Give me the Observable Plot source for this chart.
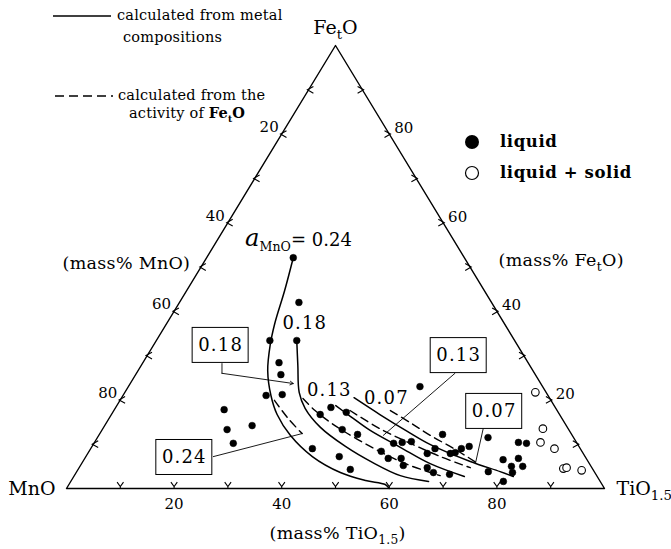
<!DOCTYPE html>
<html><head><meta charset="utf-8">
<script src="https://cdn.jsdelivr.net/npm/d3@7"></script>
<script src="https://cdn.jsdelivr.net/npm/@observablehq/plot@0.6"></script>
<style>
body{margin:0;background:#fff;}
#wrap{position:relative;width:671px;height:549px;font-family:"DejaVu Serif",serif;color:#000;overflow:hidden}
#wrap svg.plot{position:absolute;left:0;top:0}
.lg{position:absolute;white-space:nowrap;font-size:14.5px;line-height:18px;letter-spacing:0.2px}
.lg2{position:absolute;white-space:nowrap;font-size:16.5px;line-height:20px;font-weight:bold;letter-spacing:0.6px}
</style></head><body><div id="wrap"></div>
<script>
// ---------- data: [mass% TiO1.5, mass% FetO] ----------
const liquid = [[16.1,52.1],[22.2,42.0],[21.1,33.4],[26.1,33.4],[25.3,28.4],[27.0,25.7],[26.6,21.0],[29.5,21.2],
  [20.4,17.8],[23.2,13.3],[27.4,14.2],[25.9,10.2],[54.2,23.0],[40.0,18.3],[38.8,16.7],[43.4,17.2],[44.6,13.3],
  [48.0,12.2],[41.2,9.0],[47.1,7.2],[50.6,4.3],[55.7,10.2],[57.2,10.4],[58.8,10.6],[54.3,8.4],[56.4,6.8],[58.8,6.8],
  [60.0,5.2],[63.8,12.2],[63.1,7.9],[64.0,9.0],[68.9,9.0],[70.1,9.5],[67.4,7.9],[68.2,8.1],[72.6,11.5],[78.8,10.4],
  [80.4,10.2],[77.9,6.5],[80.6,6.8],[80.2,5.0],[82.3,5.0],[81.1,3.6],[64.7,4.7],[66.4,3.6],[69.6,3.2],[76.5,3.8],[80.4,1.6]];
const liquidSolid = [[76.3,21.7],[81.8,13.5],[82.9,10.4],[86.2,9.0],[90.1,4.5],[90.6,4.7],[93.7,4.1]];

const metal024 = [[16.1,52.1],[18.2,44.7],[20.1,37.2],[21.7,32.3],[24.1,26.6],[27.5,21.0],[30.8,16.7],[35.6,12.0],[42.1,7.2],[49.1,3.6],[54.7,1.8],[58.8,0.9],[60,0]];
const metal018 = [[26.1,33.4],[29.1,27.8],[32.4,21.7],[35.3,18.1],[40.3,13.8],[47.1,9.5],[53.9,5.9],[60.6,2.9],[66.5,1.6]];
const metal013 = [[40.7,18.7],[44.6,16.3],[49.9,13.1],[57.4,9.3],[64.8,5.6],[72.6,2.7]];
const metal007 = [[43.2,20.5],[49.9,16.7],[56.9,12.9],[62.7,9.9],[72.0,6.1],[78.7,3.8],[81.7,2.7]];
const act024 = [[28.7,19.9],[33.3,15.8],[37.6,12.4]];
const act018 = [[33.8,20.3],[37.4,17.6],[42.8,14.2],[51.7,9.5],[60.2,5.6],[68.0,2.9]];
const act013 = [[43.9,17.6],[51.5,13.5],[58.8,10.2],[65.9,7.2],[72.7,4.7]];
const act007 = [[51.4,17.6],[56.4,14.9],[61.6,12.0],[67.9,8.8],[73.7,5.6]];

const curveLabels = ["0.18","0.13","0.07"];
const curveLabelAt = [[25.7,37.2],[37.8,22.1],[49.3,20.3]];
const boxLabels = ["0.18","0.24","0.13","0.07"];
const boxAt = [[12.5,32.3],[18.4,7.0],[57.9,30.0],[70.8,17.4]];
const leaders = [
  [[14.8,28.2],[15.9,26.0]],
  [[23.7,7.2],[37.6,12.4]],
  [[59.2,26.0],[52.9,12.0]],
  [[70.7,13.5],[73.2,5.6]]
];
const arrowLeader = [[15.9,26.0],[30.3,23.7]];
const tickVals = [10,20,30,40,50,60,70,80,90];
const tickLabels = [20,40,60,80];

// ---------- ternary -> cartesian (data units) ----------
const P = ([ti, fe]) => ({x: ti + fe / 2, y: fe});

const sym = fn => ({draw(ctx, size){ const r = Math.sqrt(size / Math.PI); fn(ctx, r); }});
const symBottom = sym((c,r)=>{ c.moveTo(0,0); c.lineTo(0,-r*0.5); c.moveTo(-r*0.8,-r*1.6); c.lineTo(0,-r*0.5); c.lineTo(r*0.8,-r*1.6); });
const symLeft = sym((c,r)=>{ c.moveTo(r*1.2,-r*0.85); c.lineTo(-r*0.3,0); c.lineTo(r*1.2,r*0.85); });
const symRight = sym((c,r)=>{ c.moveTo(-r*1.2,-r*0.85); c.lineTo(r*0.3,0); c.lineTo(-r*1.2,r*0.85); });

const tri = [[0,0],[100,0],[0,100],[0,0]].map(P);
const solidCurves = [metal024, metal018, metal013, metal007];
const dashCurves = [act024, act018, act013, act007];

const marks = [
  Plot.line(tri, {x:"x", y:"y", stroke:"black", strokeWidth:1.4}),
  Plot.dot(tickVals.map(v=>P([v,0])), {x:"x", y:"y", r:4, symbol:symBottom, fill:"none", stroke:"black", strokeWidth:1.1}),
  Plot.dot(tickVals.map(m=>P([0,100-m])), {x:"x", y:"y", r:4, symbol:symLeft, fill:"none", stroke:"black", strokeWidth:1.1}),
  Plot.dot(tickVals.map(f=>P([100-f,f])), {x:"x", y:"y", r:4, symbol:symRight, fill:"none", stroke:"black", strokeWidth:1.1}),
  Plot.text(tickLabels.map(v=>({...P([v,0]), t:String(v)})), {x:"x", y:"y", text:"t", dy:16, fontSize:15}),
  Plot.text(tickLabels.map(m=>({...P([0,100-m]), t:String(m)})), {x:"x", y:"y", text:"t", dx:-3, dy:-7, textAnchor:"end", fontSize:15}),
  Plot.text(tickLabels.map(f=>({...P([100-f,f]), t:String(f)})), {x:"x", y:"y", text:"t", dx:5, dy:-6, textAnchor:"start", fontSize:15}),
  Plot.text(["MnO"], {x:0, y:0, text:d=>d, dx:-11, textAnchor:"end", fontSize:19}),
  Plot.text(["TiO{1.5}"], {x:100, y:0, text:d=>d, dx:12, textAnchor:"start", fontSize:19}),
  Plot.text(["Fe{t}O"], {x:50, y:100, text:d=>d, dy:-18, fontSize:19}),
  Plot.text(["(mass% MnO)"], {x:23.0, y:50.8, text:d=>d, textAnchor:"end", fontSize:17.5}),
  Plot.text(["(mass% Fe{t}O)"], {x:80.3, y:51.5, text:d=>d, textAnchor:"start", fontSize:17.5}),
  Plot.text(["(mass% TiO{1.5})"], {x:50.4, y:-10.2, text:d=>d, fontSize:17.5}),
  ...solidCurves.map(c => Plot.line(c.map(P), {x:"x", y:"y", curve:"catmull-rom", stroke:"black", strokeWidth:1.5})),
  ...dashCurves.map(c => Plot.line(c.map(P), {x:"x", y:"y", curve:"catmull-rom", stroke:"black", strokeWidth:1.4, strokeDasharray:"8,5"})),
  ...leaders.map(l => Plot.line(l.map(P), {x:"x", y:"y", stroke:"black", strokeWidth:0.9})),
  Plot.arrow([arrowLeader.map(P)], {x1:d=>d[0].x, y1:d=>d[0].y, x2:d=>d[1].x, y2:d=>d[1].y, stroke:"black", strokeWidth:0.9, headLength:6}),
  Plot.rect(boxAt.map(P), {x1:"x", x2:"x", y1:"y", y2:"y", insetLeft:-28, insetRight:-28, insetTop:-17.5, insetBottom:-17.5, fill:"white", stroke:"black", strokeWidth:1}),
  Plot.text(boxAt.map((p,i)=>({...P(p), t:boxLabels[i]})), {x:"x", y:"y", text:"t", fontSize:18}),
  Plot.text(curveLabelAt.map((p,i)=>({...P(p), t:curveLabels[i]})), {x:"x", y:"y", text:"t", fontSize:18}),
  Plot.text(["[a]{MnO}= 0.24"], {x:P([5.2,56.0]).x, y:56.0, text:d=>d, textAnchor:"start", fontSize:18}),
  Plot.dot(liquid.map(P), {x:"x", y:"y", r:3.4, fill:"black", stroke:"black", strokeWidth:0.5}),
  Plot.dot(liquidSolid.map(P), {x:"x", y:"y", r:3.8, fill:"white", stroke:"black", strokeWidth:1.1})
];

const chart = Plot.plot({
  width:671, height:549,
  marginLeft:66, marginRight:67, marginTop:45, marginBottom:61,
  x:{domain:[0,100], axis:null},
  y:{domain:[0,100], axis:null},
  style:{fontFamily:'"DejaVu Serif", serif', background:"transparent", overflow:"visible", color:"black"},
  marks
});

function rich(s){
  const toks = s.match(/(\{[^}]*\}|\[[^\]]*\]|[^{\[]+)/g);
  let out = "", shift = 0;
  for (const m of toks){
    if (m[0]==="{"){ out += `<tspan dy="${5-shift}" font-size="70%">${m.slice(1,-1)}</tspan>`; shift = 5; }
    else if (m[0]==="["){ out += `<tspan dy="${-shift}" font-style="italic" font-size="135%">${m.slice(1,-1)}</tspan>`; shift = 0; }
    else { out += `<tspan dy="${-shift}">${m}</tspan>`; shift = 0; }
  }
  return out;
}
chart.querySelectorAll("text").forEach(t=>{
  const s = t.textContent;
  if (/[{\[]/.test(s)) t.innerHTML = rich(s);
  if (/^0\.\d\d$/.test(s)) t.setAttribute("letter-spacing","1.2");
  if (/mass%/.test(s)) t.setAttribute("letter-spacing","0.3");
});

const wrap = document.getElementById("wrap");
wrap.appendChild(chart);

wrap.insertAdjacentHTML("beforeend", `
<svg style="position:absolute;left:53px;top:13px" width="60" height="6"><line x1="0" x2="58" y1="3" y2="3" stroke="black" stroke-width="1.5"/></svg>
<div class="lg" style="left:117px;top:6px">calculated from metal</div>
<div class="lg" style="left:123px;top:28px">compositions</div>
<svg style="position:absolute;left:55px;top:93px" width="60" height="6"><line x1="0" x2="58" y1="3" y2="3" stroke="black" stroke-width="1.5" stroke-dasharray="9,5"/></svg>
<div class="lg" style="left:118px;top:86px">calculated from the</div>
<div class="lg" style="left:129px;top:104px">activity of <b>Fe<sub style="font-size:9px">t</sub>O</b></div>
<svg style="position:absolute;left:462px;top:132px" width="20" height="52">
  <circle cx="10" cy="10" r="7" fill="black"/>
  <circle cx="10" cy="41" r="6.5" fill="white" stroke="black" stroke-width="1.2"/>
</svg>
<div class="lg2" style="left:500px;top:132px">liquid</div>
<div class="lg2" style="left:500px;top:163px">liquid + solid</div>
`);
</script>
</body></html>
